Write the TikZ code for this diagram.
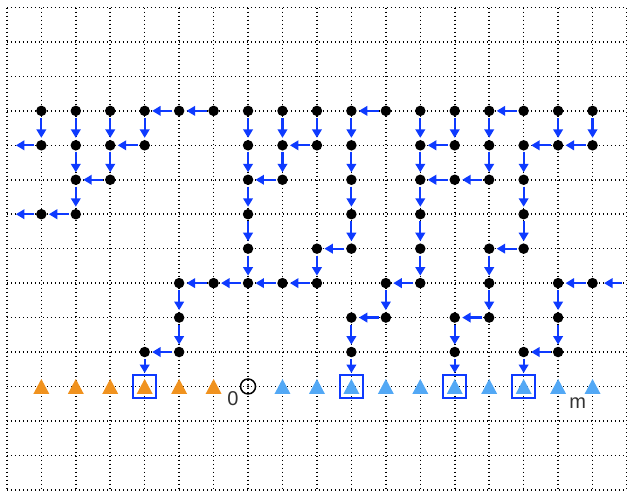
\documentclass[tikz,border=0pt]{standalone}
\usepackage{fontspec}
\setmainfont{Liberation Sans}
\usetikzlibrary{arrows.meta}
\definecolor{arr}{RGB}{14,58,255}
\definecolor{orng}{RGB}{240,146,30}
\definecolor{lblue}{RGB}{82,168,245}
\definecolor{txt}{RGB}{50,50,50}
\begin{document}
\begin{tikzpicture}[x=34.45pt,y=34.45pt,
  dot/.style={circle,fill=black,inner sep=0pt,minimum size=10.5pt},
  arw/.style={draw=arr,line width=2.2pt,-{Triangle[length=8.5pt,width=9.5pt]},shorten >=2pt,shorten <=1.5pt},
  tribox/.style={draw=arr,line width=1.8pt,minimum size=23pt,inner sep=0pt},
  griddot/.style={line width=1.5pt,dash pattern=on 1.4pt off 2.6pt},
  lbl/.style={text=txt,font=\fontsize{20}{20}\selectfont,inner sep=0pt}]
\useasboundingbox (-0.2,0.218) rectangle (18.0,-14.062);
% grid
\foreach \i in {0,...,18} \draw[griddot] (\i,0) -- (\i,-14);
\foreach \j in {0,...,14} \draw[griddot] (0,-\j) -- (18,-\j);
% triangles
\foreach \c in {1,...,6}
  \fill[orng] (\c,-11) ++(-8pt,-7.5pt) -- ++(16pt,0) -- ++(-8pt,15pt) -- cycle;
\foreach \c in {8,...,17}
  \fill[lblue] (\c,-11) ++(-8pt,-7.5pt) -- ++(16pt,0) -- ++(-8pt,15pt) -- cycle;
% boxes
\foreach \c in {4,10,13,15} \node[tribox] (b\c) at (\c,-11) {};
% origin
\node[circle,draw,line width=1.5pt,minimum size=15pt,inner sep=0pt] (o) at (7,-11) {};
\fill (o.center) circle (1.2pt);
\node[lbl] (l0) at (6.56,-11.36) {0};
\node[lbl] (lm) at (16.57,-11.48) {m};
% dots
\foreach \c/\r in {1/3,2/3,3/3,4/3,5/3,6/3,7/3,8/3,9/3,10/3,11/3,12/3,13/3,14/3,15/3,16/3,17/3,
  1/4,2/4,3/4,4/4,7/4,8/4,9/4,10/4,12/4,13/4,14/4,15/4,16/4,17/4,
  2/5,3/5,7/5,8/5,10/5,12/5,13/5,14/5,15/5,
  1/6,2/6,7/6,10/6,12/6,15/6,
  7/7,9/7,10/7,12/7,14/7,15/7,
  5/8,6/8,7/8,8/8,9/8,11/8,12/8,14/8,16/8,17/8,
  5/9,10/9,11/9,13/9,14/9,16/9,
  4/10,5/10,10/10,13/10,15/10,16/10}
  \node[dot] (d\c-\r) at (\c,-\r) {};
% free ends
\coordinate (f0-4) at (0,-4);
\coordinate (f0-6) at (0,-6);
\coordinate (f18-8) at (18,-8);
% downward arrows
\foreach \c/\r in {1/3,2/3,3/3,4/3,7/3,8/3,9/3,10/3,12/3,13/3,14/3,16/3,17/3,
  2/4,3/4,7/4,8/4,10/4,12/4,14/4,15/4,
  2/5,7/5,10/5,12/5,15/5,
  7/6,10/6,12/6,15/6,
  7/7,9/7,12/7,14/7,
  5/8,11/8,14/8,16/8,
  5/9,10/9,13/9,16/9}
  {\pgfmathtruncatemacro\rn{\r+1}\draw[arw] (d\c-\r) -- (d\c-\rn);}
% leftward arrows
\foreach \c/\r in {5/3,6/3,11/3,15/3,
  4/4,9/4,13/4,16/4,17/4,
  3/5,8/5,13/5,14/5,
  2/6,
  10/7,15/7,
  6/8,7/8,8/8,9/8,12/8,17/8,
  11/9,14/9,
  5/10,16/10}
  {\pgfmathtruncatemacro\cn{\c-1}\draw[arw] (d\c-\r) -- (d\cn-\r);}
% arrows into boxes
\foreach \c in {4,10,13,15} \draw[arw,shorten >=1pt] (d\c-10) -- (b\c);
% free arrows
\draw[arw,shorten >=9pt] (d1-4) -- (f0-4);
\draw[arw,shorten >=9pt] (d1-6) -- (f0-6);
\draw[arw,shorten <=5pt,shorten >=6pt] (f18-8) -- (d17-8);
\end{tikzpicture}
\end{document}
